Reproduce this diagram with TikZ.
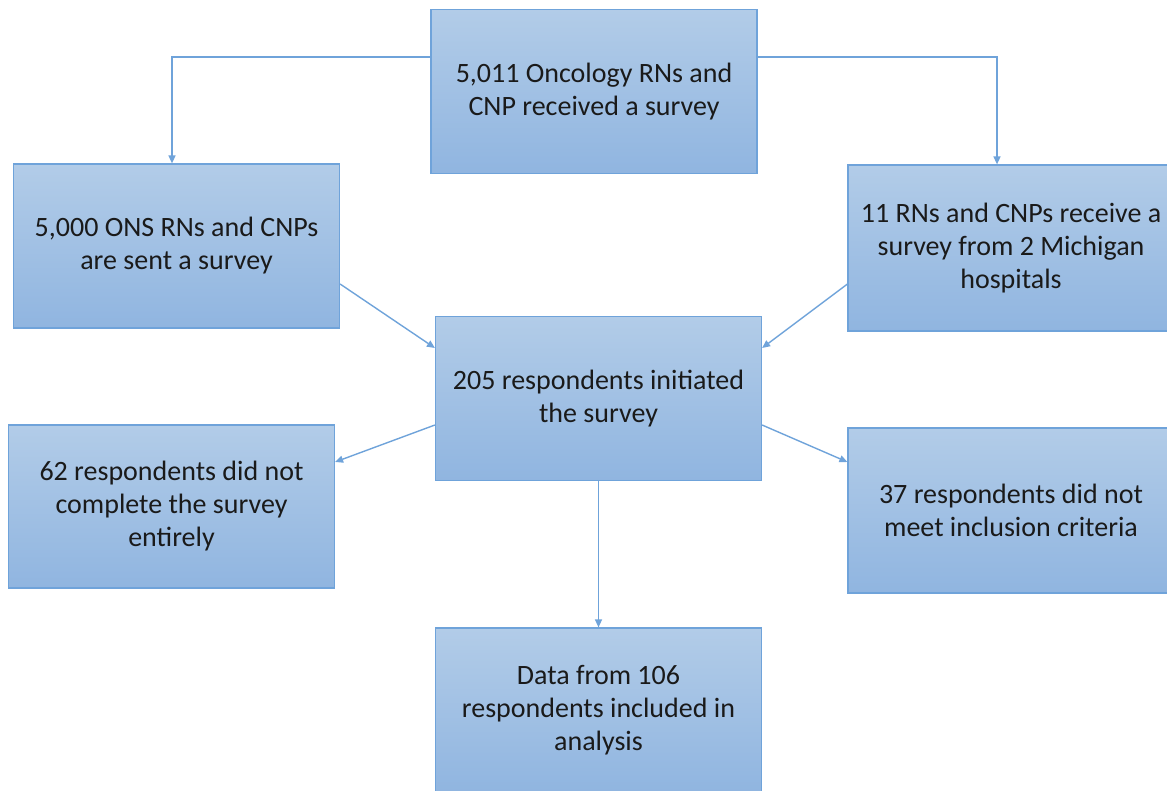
\documentclass[tikz,border=0pt]{standalone}
\usepackage{fontspec}
\setmainfont{Carlito}
\usetikzlibrary{arrows.meta}
\definecolor{boxtop}{HTML}{B2CCE8}
\definecolor{boxbot}{HTML}{90B5E0}
\definecolor{boxline}{HTML}{6FA3DA}
\definecolor{txt}{HTML}{1A1A1A}
\tikzset{
  stagebox/.style={draw=boxline, line width=1.2pt, top color=boxtop, bottom color=boxbot,
    minimum width=326pt, minimum height=164pt, inner sep=0pt, anchor=center,
    align=center, text=txt, font=\fontsize{28}{33}\selectfont},
  conn/.style={draw=boxline, line width=1.4pt, -{Triangle[length=8pt,width=7pt]}}
}
\begin{document}
\begin{tikzpicture}[x=1pt,y=-1pt]
\useasboundingbox (0,0) rectangle (1167,790);
\node[stagebox] (top) at (594,91.5) {5,011 Oncology RNs and\\CNP received a survey};
\node[stagebox] (l1) at (176.5,246) {5,000 ONS RNs and CNPs\\are sent a survey};
\node[stagebox, minimum height=166pt] (r1) at (1011,248) {11 RNs and CNPs receive a\\survey from 2 Michigan\\hospitals};
\node[stagebox] (c) at (598.5,398.5) {205 respondents initiated\\the survey};
\node[stagebox, minimum height=163pt] (l2) at (171.5,506.5) {62 respondents did not\\complete the survey\\entirely};
\node[stagebox, minimum height=165pt] (r2) at (1011,510.5) {37 respondents did not\\meet inclusion criteria};
\node[stagebox] (b) at (598.5,710) {Data from 106\\respondents included in\\analysis};

\draw[conn] ([yshift=34.5pt]top.west) -| ([xshift=-4.5pt]l1.north);
\draw[conn] ([yshift=34.5pt]top.east) -| ([xshift=-14pt]r1.north);
\draw[conn] ([yshift=-38pt]l1.east) -- ([yshift=50.5pt]c.west);
\draw[conn] ([yshift=-36pt]r1.west) -- ([yshift=50.5pt]c.east);
\draw[conn] ([yshift=-26.5pt]c.west) -- ([yshift=44.5pt]l2.east);
\draw[conn] ([yshift=-26.5pt]c.east) -- ([yshift=48.5pt]r2.west);
\draw[conn] (c.south) -- (b.north);
\end{tikzpicture}
\end{document}
